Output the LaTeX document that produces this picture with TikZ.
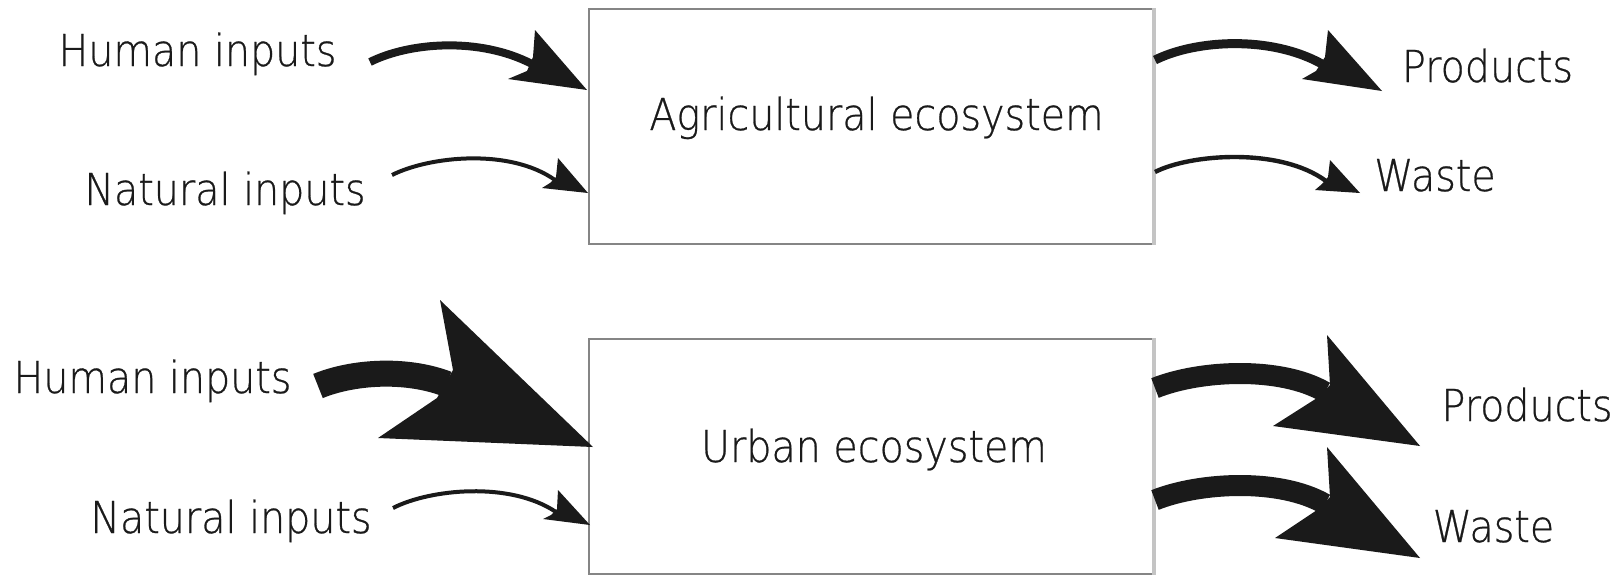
\documentclass[tikz,border=0pt]{standalone}
\usepackage{fontspec}
\setmainfont{DejaVu Sans ExtraLight}[FakeStretch=0.9,FakeBold=0.6]
\definecolor{ink}{HTML}{1A1A1A}
\definecolor{boxgray}{HTML}{858585}
\definecolor{edgegray}{HTML}{C4C4C4}
\begin{document}
\begin{tikzpicture}[x=0.5pt,y=-0.5pt,
  lbl/.style={inner sep=0pt, anchor=base, text=ink, font=\fontsize{22}{26}\selectfont},
  ecobox/.style={draw=boxgray, line width=1pt, minimum width=282pt, minimum height=117.5pt, inner sep=0pt},
  lightedge/.style={draw=edgegray, line width=1.8pt},
  flowbody/.style={draw=ink, line cap=butt},
  flowhead/.style={fill=ink}]
\useasboundingbox (0,0) rectangle (1622,575);

% boxes
\node[ecobox] (agri) at (871,126.5) {};
\node[ecobox] (urban) at (871,456.5) {};
\draw[lightedge] (agri.north east) -- (agri.south east);
\draw[lightedge] (urban.north east) -- (urban.south east);

% labels
\node[lbl] (agritxt) at (876.5,130) {Agricultural ecosystem};
\node[lbl] (urbantxt) at (874,462) {Urban ecosystem};
\node[lbl] (hum1) at (197.5,66) {Human inputs};
\node[lbl] (nat1) at (225,205) {Natural inputs};
\node[lbl] (prod1) at (1487.5,82) {Products};
\node[lbl] (waste1) at (1435,191) {Waste};
\node[lbl] (hum2) at (152.5,393) {Human inputs};
\node[lbl] (nat2) at (231,533) {Natural inputs};
\node[lbl] (prod2) at (1527,421) {Products};
\node[lbl] (waste2) at (1493.5,542) {Waste};

% ---- top: human inputs
\coordinate (a1s) at (370,62);
\coordinate (a1e) at (532,64);
\draw[flowbody, line width=4pt] (a1s) .. controls (410,42) and (480,37) .. (a1e);
\coordinate (a1tb) at (535,30); \coordinate (a1tip) at (587,90);
\coordinate (a1bb) at (508,79); \coordinate (a1nb) at (527,71); \coordinate (a1nt) at (533,57);
\fill[flowhead] (a1tb) -- (a1tip) -- (a1bb) -- (a1nb) -- (a1nt) -- cycle;

% ---- top: natural inputs
\coordinate (a2s) at (392,175);
\coordinate (a2e) at (555,180);
\draw[flowbody, line width=2pt] (a2s) .. controls (430,156) and (510,148) .. (a2e);
\coordinate (a2tb) at (558,158); \coordinate (a2tip) at (588,193);
\coordinate (a2bb) at (542,188); \coordinate (a2nb) at (550,183); \coordinate (a2nt) at (556,177);
\fill[flowhead] (a2tb) -- (a2tip) -- (a2bb) -- (a2nb) -- (a2nt) -- cycle;

% ---- bottom: human inputs
\coordinate (a3s) at (318,386);
\coordinate (a3e) at (447,384);
\draw[flowbody, line width=13pt] (a3s) .. controls (352,372) and (405,368) .. (a3e);
\coordinate (a3tb) at (440,300); \coordinate (a3tip) at (593,447);
\coordinate (a3bb) at (378,438); \coordinate (a3nb) at (437,398); \coordinate (a3nt) at (453,370);
\fill[flowhead] (a3tb) -- (a3tip) -- (a3bb) -- (a3nb) -- (a3nt) -- cycle;

% ---- bottom: natural inputs
\coordinate (a4s) at (393,508);
\coordinate (a4e) at (556,512);
\draw[flowbody, line width=2pt] (a4s) .. controls (430,489) and (510,481) .. (a4e);
\coordinate (a4tb) at (558,490); \coordinate (a4tip) at (590,525);
\coordinate (a4bb) at (543,519); \coordinate (a4nb) at (551,515); \coordinate (a4nt) at (557,509);
\fill[flowhead] (a4tb) -- (a4tip) -- (a4bb) -- (a4nb) -- (a4nt) -- cycle;

% ---- top: products
\coordinate (b1s) at (1155,60);
\coordinate (b1e) at (1322,64);
\draw[flowbody, line width=4.5pt] (b1s) .. controls (1195,40) and (1270,35) .. (b1e);
\coordinate (b1tb) at (1328,30); \coordinate (b1tip) at (1382,91);
\coordinate (b1bb) at (1302,79); \coordinate (b1nb) at (1316,71); \coordinate (b1nt) at (1325,57);
\fill[flowhead] (b1tb) -- (b1tip) -- (b1bb) -- (b1nb) -- (b1nt) -- cycle;

% ---- top: waste
\coordinate (b2s) at (1155,172);
\coordinate (b2e) at (1326,181);
\draw[flowbody, line width=2.2pt] (b2s) .. controls (1190,154) and (1280,147) .. (b2e);
\coordinate (b2tb) at (1330,160); \coordinate (b2tip) at (1360,193);
\coordinate (b2bb) at (1315,190); \coordinate (b2nb) at (1322,184); \coordinate (b2nt) at (1328,177);
\fill[flowhead] (b2tb) -- (b2tip) -- (b2bb) -- (b2nb) -- (b2nt) -- cycle;

% ---- bottom: products
\coordinate (b3s) at (1155,388);
\coordinate (b3e) at (1325,392);
\draw[flowbody, line width=10.5pt] (b3s) .. controls (1200,370) and (1280,366) .. (b3e);
\coordinate (b3tb) at (1327,335); \coordinate (b3tip) at (1420,446);
\coordinate (b3bb) at (1273,426); \coordinate (b3nb) at (1317,398); \coordinate (b3nt) at (1330,385);
\fill[flowhead] (b3tb) -- (b3tip) -- (b3bb) -- (b3nb) -- (b3nt) -- cycle;

% ---- bottom: waste
\coordinate (b4s) at (1155,500);
\coordinate (b4e) at (1325,504);
\draw[flowbody, line width=10.5pt] (b4s) .. controls (1200,482) and (1280,478) .. (b4e);
\coordinate (b4tb) at (1327,447); \coordinate (b4tip) at (1420,558);
\coordinate (b4bb) at (1275,538); \coordinate (b4nb) at (1317,510); \coordinate (b4nt) at (1330,497);
\fill[flowhead] (b4tb) -- (b4tip) -- (b4bb) -- (b4nb) -- (b4nt) -- cycle;
\end{tikzpicture}
\end{document}
